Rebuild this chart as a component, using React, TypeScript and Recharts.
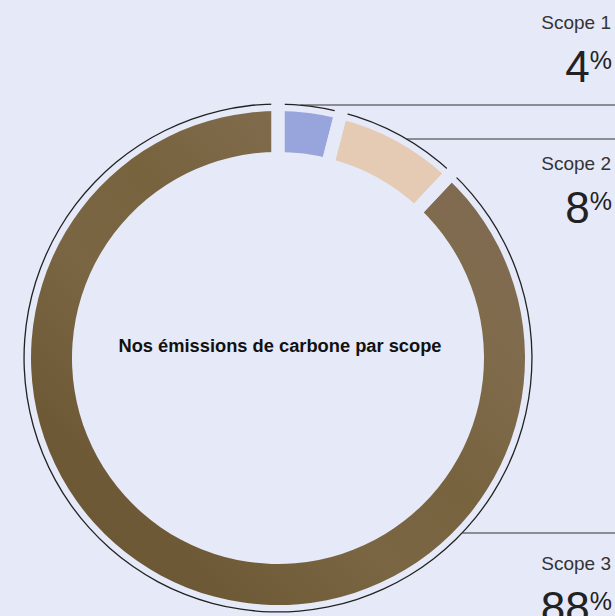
import { PieChart, Pie, Cell } from 'recharts';

const SCOPES = ['Scope 1', 'Scope 2', 'Scope 3'];
const SHARES = [4, 8, 88];
const TITLE = 'Nos émissions de carbone par scope';

const FILLS = ['#98a4dc', '#e5cab4', 'url(#brownGrain)'];
const BG = '#e6e9f7';
const FONT = "'Liberation Sans', Arial, sans-serif";

// label layout (right column)
const NAME_Y = [22, 163, 563];
const LINE_Y = [105, 139, 533];
const RIGHT = 611;
const RING_R = 254;

const data = SCOPES.map((name, i) => ({ name, value: SHARES[i] }));

const renderLabel = (props: any) => {
  const { cx, cy, index, value } = props;
  const ly = LINE_Y[index];
  const dy = ly - cy;
  const x0 = cx + Math.sqrt(Math.max(RING_R * RING_R - dy * dy, 0));
  const ny = NAME_Y[index];
  return (
    <g key={`lbl-${index}`}>
      {index === 0 && (
        <text x={cx + 2} y={cy - 13} textAnchor="middle" dominantBaseline="central"
          fontSize={18.3} fontWeight="bold" fill="#111" fontFamily={FONT}>
          {TITLE}
        </text>
      )}
      <line x1={x0} y1={ly} x2={615} y2={ly} stroke="#333" strokeWidth={1.2} />
      <text x={RIGHT} y={ny + 6.5} textAnchor="end" fill="#333" fontSize={19} fontFamily={FONT}>
        {SCOPES[index]}
      </text>
      <text x={RIGHT + 1} y={ny + 60} textAnchor="end" fill="#222" fontFamily={FONT}>
        <tspan fontSize={44}>{value}</tspan>
        <tspan fontSize={25} dy={-13}>%</tspan>
      </text>
    </g>
  );
};

export default function App() {
  return (
    <div style={{ position: 'absolute', left: 0, top: 0, width: 615, height: 616, background: BG, overflow: 'hidden' }}>
      <PieChart width={615} height={616} margin={{ top: 0, right: 0, bottom: 0, left: 0 }}>
        <defs>
          <linearGradient id="brownGrain" x1="1" y1="0" x2="0" y2="1">
            <stop offset="0%" stopColor="#7d6a55" />
            <stop offset="25%" stopColor="#806b4d" />
            <stop offset="45%" stopColor="#78633f" />
            <stop offset="60%" stopColor="#7b6644" />
            <stop offset="80%" stopColor="#6e5936" />
            <stop offset="100%" stopColor="#6b5633" />
          </linearGradient>
        </defs>
        {/* thick ring */}
        <Pie
          data={data}
          dataKey="value"
          cx={278}
          cy={358}
          innerRadius={206}
          outerRadius={247}
          startAngle={90}
          endAngle={-270}
          paddingAngle={0}
          stroke="none"
          isAnimationActive={false}
        >
          {data.map((d, i) => (
            <Cell key={d.name} fill={FILLS[i]} />
          ))}
        </Pie>
        {/* thin outer circle */}
        <Pie
          data={data}
          dataKey="value"
          cx={278}
          cy={358}
          innerRadius={253.3}
          outerRadius={254.6}
          startAngle={90}
          endAngle={-270}
          paddingAngle={0}
          stroke="none"
          fill="#222"
          isAnimationActive={false}
        />
        {/* constant-width gaps between scopes + labels */}
        <Pie
          data={data}
          dataKey="value"
          cx={278}
          cy={358}
          innerRadius={0}
          outerRadius={264}
          startAngle={90}
          endAngle={-270}
          paddingAngle={0}
          fill="none"
          stroke={BG}
          strokeWidth={13}
          label={renderLabel}
          labelLine={false}
          isAnimationActive={false}
        />
      </PieChart>
    </div>
  );
}
